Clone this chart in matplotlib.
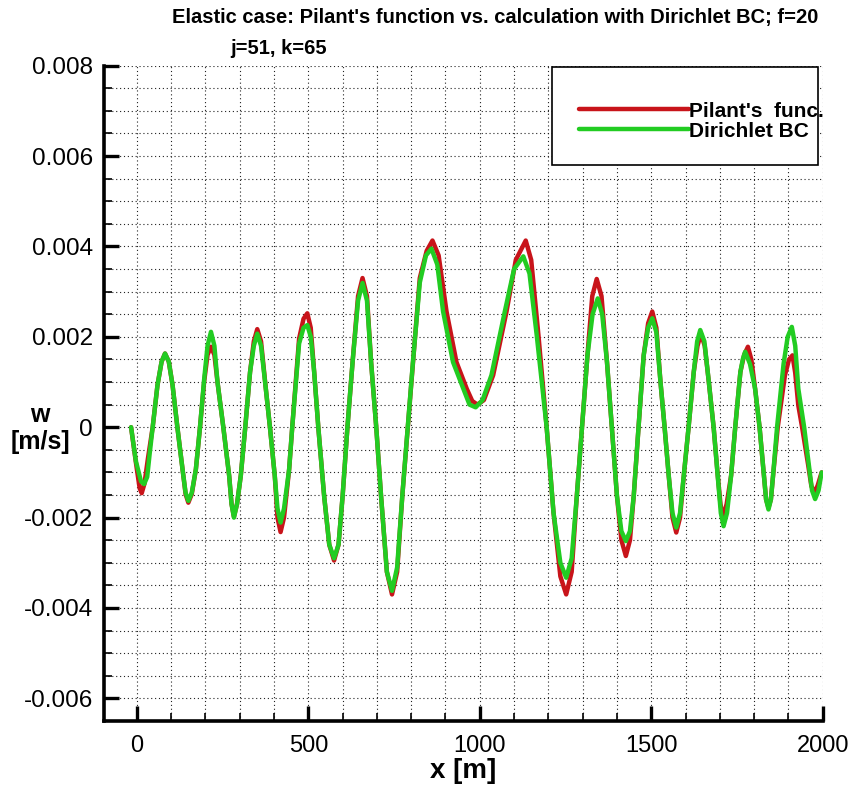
import matplotlib
matplotlib.use("Agg")
import matplotlib.pyplot as plt
from matplotlib.patches import Rectangle
from matplotlib.ticker import MultipleLocator, FixedLocator

plt.rcParams['font.family'] = ['Liberation Sans', 'DejaVu Sans']

# ---- data ----
x_pilant = [-17, -3, 8, 14, 22, 32, 46, 60, 72, 82, 93, 104, 118, 133, 142, 150, 160, 172,
            184, 196, 206, 216, 226, 235, 252, 269, 276, 283, 292, 303, 316, 330, 341, 351, 362, 376,
            388, 402, 410, 419, 429, 444, 453, 473, 486, 497, 507, 517, 529, 546, 561, 575, 588, 600,
            614, 629, 645, 658, 671, 683, 698, 712, 729, 744, 759, 774, 790, 805, 825, 845, 862, 880,
            903, 932, 962, 978, 993, 1012, 1039, 1078, 1105, 1134, 1150, 1171,
            1195, 1215, 1235, 1252, 1268, 1283, 1298, 1314, 1328, 1341, 1355, 1371,
            1385, 1400, 1413, 1426, 1438, 1449, 1463, 1478, 1491, 1503, 1515, 1527,
            1539, 1551, 1562, 1573, 1584, 1595, 1609, 1624, 1635, 1645, 1656, 1668,
            1682, 1694, 1702, 1709, 1720, 1733, 1745, 1760, 1771, 1782, 1792, 1803,
            1816, 1828, 1835, 1842, 1849, 1855, 1869, 1890, 1902, 1912, 1920, 1929,
            1940, 1958, 1967, 1975, 1985, 1997]
w_pilant = [0.0, -0.00078, -0.00135, -0.00146, -0.00125, -0.0007, 0.0,
            0.00093, 0.00145, 0.00163, 0.00145, 0.00093,
            0.0, -0.00093, -0.00148, -0.00167, -0.00148, -0.00093,
            0.0, 0.001, 0.0016, 0.00178, 0.0016, 0.001,
            0.0, -0.00107, -0.0017, -0.00198, -0.0017, -0.00107,
            0.0, 0.00122, 0.0019, 0.00217, 0.0019, 0.00085,
            0.0, -0.00107, -0.002, -0.00232, -0.002, -0.00093,
            0.0, 0.00196, 0.0024, 0.00252, 0.0022, 0.00122,
            0.0, -0.00152, -0.0026, -0.00295, -0.0026, -0.00152,
            0.0, 0.00144, 0.0029, 0.0033, 0.0029, 0.00144,
            0.0, -0.00152, -0.0032, -0.0037, -0.0032, -0.00152,
            0.0, 0.00144, 0.0033, 0.0039, 0.00413, 0.0038,
            0.00256, 0.00144, 0.00085, 0.00058, 0.0005, 0.0006,
            0.00115, 0.00256, 0.0037, 0.00413, 0.0037, 0.00204,
            0.0, -0.00189, -0.0033, -0.0037, -0.0032, -0.00152,
            0.0, 0.00159, 0.0029, 0.00328, 0.0029, 0.00144,
            0.0, -0.00152, -0.0025, -0.00285, -0.0025, -0.00152,
            0.0, 0.00159, 0.0023, 0.00256, 0.0022, 0.001,
            0.0, -0.00107, -0.002, -0.00233, -0.002, -0.00107,
            0.0, 0.00122, 0.0018, 0.00207, 0.0018, 0.001,
            0.0, -0.00107, -0.0017, -0.002, -0.0017, -0.00107,
            0.0, 0.00122, 0.0016, 0.00178, 0.0015, 0.00085,
            0.0, -0.001, -0.0016, -0.00178, -0.0016, -0.0011,
            0.0, 0.00115, 0.0015, 0.00159, 0.0012, 0.00048,
            0.0, -0.00085, -0.0013, -0.00144, -0.0013, -0.001]

x_dirichlet = [-17, -3, 12, 21, 30, 37, 46, 60, 72, 82, 93, 104, 118, 133, 142, 150, 160, 172,
               184, 196, 206, 216, 226, 235, 252, 269, 276, 283, 292, 303, 316, 330, 341, 351, 362, 376,
               388, 402, 410, 419, 429, 444, 453, 473, 486, 497, 507, 517, 529, 546, 561, 575, 588, 600,
               614, 629, 645, 658, 671, 683, 698, 712, 729, 744, 759, 774, 790, 805, 825, 843, 859, 876,
               893, 922, 952, 970, 988, 1008, 1034, 1073, 1100, 1127, 1145, 1166,
               1195, 1215, 1235, 1252, 1268, 1283, 1298, 1314, 1329, 1344, 1357, 1371,
               1385, 1400, 1413, 1426, 1438, 1449, 1463, 1478, 1491, 1503, 1515, 1527,
               1539, 1551, 1562, 1573, 1584, 1595, 1609, 1624, 1634, 1643, 1655, 1668,
               1682, 1694, 1703, 1711, 1721, 1733, 1745, 1760, 1767, 1774, 1788, 1803,
               1816, 1828, 1835, 1842, 1849, 1855, 1867, 1886, 1898, 1910, 1920, 1929,
               1946, 1960, 1969, 1978, 1988, 1997]
w_dirichlet = [0.0, -0.00075, -0.0012, -0.00126, -0.0011, -0.0006, 0.0,
               0.00093, 0.00145, 0.00163, 0.00145, 0.00093,
               0.0, -0.00093, -0.00145, -0.00163, -0.00145, -0.00093,
               0.0, 0.00105, 0.0018, 0.00211, 0.0018, 0.001,
               0.0, -0.00107, -0.0017, -0.002, -0.0017, -0.00107,
               0.0, 0.00122, 0.0018, 0.00207, 0.0018, 0.00085,
               0.0, -0.00107, -0.0018, -0.00211, -0.0018, -0.00093,
               0.0, 0.00185, 0.0022, 0.00226, 0.002, 0.00122,
               0.0, -0.00152, -0.0026, -0.0029, -0.0026, -0.00152,
               0.0, 0.00144, 0.0028, 0.00319, 0.0028, 0.00144,
               0.0, -0.00152, -0.0032, -0.00362, -0.0031, -0.00152,
               0.0, 0.00144, 0.0032, 0.0038, 0.00395, 0.0036,
               0.00256, 0.00144, 0.00085, 0.0005, 0.00044, 0.0006,
               0.00115, 0.00256, 0.0035, 0.00378, 0.0034, 0.00204,
               0.0, -0.00189, -0.003, -0.00333, -0.0029, -0.00152,
               0.0, 0.00159, 0.0025, 0.00285, 0.0025, 0.00144,
               0.0, -0.00152, -0.0023, -0.00252, -0.0023, -0.00152,
               0.0, 0.00159, 0.0022, 0.00241, 0.0021, 0.001,
               0.0, -0.00107, -0.0019, -0.00222, -0.0019, -0.00107,
               0.0, 0.00122, 0.0019, 0.00215, 0.0019, 0.001,
               0.0, -0.00107, -0.0019, -0.00219, -0.0019, -0.00107,
               0.0, 0.00122, 0.0015, 0.00167, 0.0014, 0.00085,
               0.0, -0.001, -0.0016, -0.00182, -0.0016, -0.0011,
               0.0, 0.0014, 0.002, 0.00222, 0.0018, 0.00085,
               0.0, -0.00085, -0.0014, -0.00159, -0.0014, -0.001]

labels = ["Pilant's  func.", "Dirichlet BC"]
x_ticks = [0, 500, 1000, 1500, 2000]
y_ticks = [-0.006, -0.004, -0.002, 0, 0.002, 0.004, 0.006, 0.008]
y_ticklabels = ["-0.006", "-0.004", "-0.002", "0", "0.002", "0.004", "0.006", "0.008"]

fig = plt.figure(figsize=(8.51, 7.87), dpi=100)
ax = fig.add_axes([0.1222, 0.0839, 0.8445, 0.8327])

ax.set_xlim(-96, 2000)
ax.set_ylim(-0.0065, 0.008)

red = "#c8141a"
green = "#22cc22"
l1, = ax.plot(x_pilant, w_pilant, color=red, lw=3.2, solid_joinstyle='round',
              solid_capstyle='round', zorder=3)
l2, = ax.plot(x_dirichlet, w_dirichlet, color=green, lw=3.2, solid_joinstyle='round',
              solid_capstyle='round', zorder=4)

ax.xaxis.set_major_locator(FixedLocator(x_ticks))
ax.xaxis.set_minor_locator(MultipleLocator(100))
ax.yaxis.set_major_locator(FixedLocator(y_ticks))
ax.yaxis.set_minor_locator(MultipleLocator(0.0005))
ax.set_yticklabels(y_ticklabels)

ax.grid(which='both', color='#222222', linestyle=(0, (1, 2.5)), linewidth=0.8, zorder=1)
ax.tick_params(which='major', direction='in', length=11, width=2.4, labelsize=17.5)
ax.tick_params(axis='y', which='major', pad=8)
ax.tick_params(which='minor', direction='in', length=5.5, width=1.2)
ax.tick_params(axis='x', which='major', pad=10, labelsize=17)

for s in ['top', 'right']:
    ax.spines[s].set_visible(False)
for s in ['left', 'bottom']:
    ax.spines[s].set_linewidth(2.6)

ax.set_xlabel("x [m]", fontsize=20, fontweight='bold', labelpad=1)
fig.text(0.047, 0.456, "w\n[m/s]", ha='center', va='center', fontsize=18, fontweight='bold',
         linespacing=1.15)

fig.text(0.582, 0.978, "Elastic case: Pilant's function vs. calculation with Dirichlet BC; f=20",
         ha='center', va='center', fontsize=14.5, fontweight='bold')
fig.text(0.27, 0.938, "j=51, k=65", ha='left', va='center', fontsize=14.5, fontweight='bold')

# legend box
ax.add_patch(Rectangle((0.623, 0.848), 0.370, 0.150, transform=ax.transAxes, fill=True,
                       facecolor='white', edgecolor='black', lw=1.2, zorder=5, clip_on=False))
leg = ax.legend([l1, l2], labels, loc='upper left', bbox_to_anchor=(0.661, 0.945),
                frameon=False, handlelength=5.3, handletextpad=0.0, labelspacing=0.05,
                borderaxespad=0, borderpad=0, prop={'size': 15, 'weight': 'bold'})
leg.set_zorder(6)

fig.savefig("out.png", dpi=100)
